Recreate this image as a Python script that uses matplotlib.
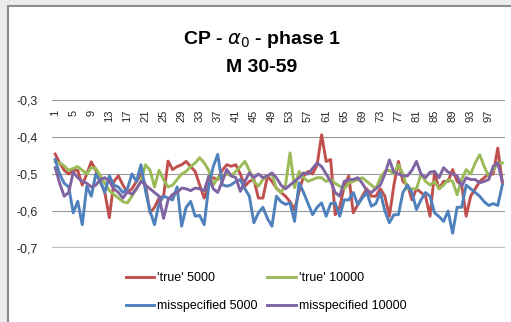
import matplotlib
matplotlib.use("Agg")
import matplotlib.pyplot as plt
from matplotlib.patches import Rectangle
import numpy as np

plt.rcParams['font.family'] = ['Liberation Sans', 'DejaVu Sans']

# data (100 replications)
true_5000 = [-0.446, -0.47, -0.49, -0.50, -0.49, -0.49, -0.53, -0.50, -0.467, -0.49,
             -0.52, -0.55, -0.618, -0.52, -0.505, -0.53, -0.55, -0.54, -0.52, -0.50,
             -0.53, -0.605, -0.59, -0.565, -0.56, -0.465, -0.488, -0.48, -0.475, -0.466,
             -0.48, -0.493, -0.53, -0.565, -0.53, -0.51, -0.515, -0.49, -0.475, -0.479,
             -0.475, -0.50, -0.533, -0.52, -0.515, -0.565, -0.565, -0.506, -0.52, -0.538,
             -0.55, -0.56, -0.575, -0.597, -0.547, -0.506, -0.493, -0.50, -0.475, -0.394,
             -0.466, -0.461, -0.61, -0.59, -0.533, -0.505, -0.605, -0.583, -0.56, -0.54,
             -0.56, -0.56, -0.54, -0.56, -0.614, -0.53, -0.466, -0.52, -0.53, -0.57,
             -0.54, -0.55, -0.56, -0.614, -0.497, -0.54, -0.52, -0.52, -0.488, -0.52,
             -0.53, -0.614, -0.56, -0.54, -0.52, -0.51, -0.50, -0.50, -0.43, -0.524]
true_10000 = [-0.466, -0.47, -0.478, -0.49, -0.485, -0.48, -0.49, -0.50, -0.483, -0.485,
              -0.505, -0.525, -0.545, -0.555, -0.565, -0.575, -0.578, -0.56, -0.54, -0.52,
              -0.475, -0.49, -0.535, -0.49, -0.515, -0.535, -0.53, -0.515, -0.50, -0.493,
              -0.48, -0.47, -0.456, -0.47, -0.49, -0.53, -0.51, -0.505, -0.50, -0.505,
              -0.493, -0.48, -0.466, -0.49, -0.52, -0.533, -0.515, -0.505, -0.50, -0.54,
              -0.55, -0.53, -0.443, -0.537, -0.493, -0.51, -0.52, -0.515, -0.51, -0.51,
              -0.52, -0.515, -0.525, -0.533, -0.54, -0.525, -0.52, -0.515, -0.51, -0.52,
              -0.53, -0.54, -0.51, -0.493, -0.49, -0.50, -0.475, -0.50, -0.54, -0.54,
              -0.54, -0.50, -0.52, -0.53, -0.52, -0.54, -0.53, -0.515, -0.52, -0.556,
              -0.515, -0.488, -0.50, -0.47, -0.448, -0.48, -0.506, -0.49, -0.47, -0.47]
miss_5000 = [-0.461, -0.50, -0.525, -0.535, -0.605, -0.574, -0.637, -0.533, -0.56, -0.50,
             -0.52, -0.55, -0.505, -0.53, -0.535, -0.55, -0.54, -0.50, -0.52, -0.475,
             -0.545, -0.60, -0.637, -0.58, -0.56, -0.565, -0.57, -0.535, -0.641, -0.59,
             -0.574, -0.614, -0.612, -0.637, -0.533, -0.48, -0.447, -0.529, -0.533, -0.529,
             -0.52, -0.515, -0.54, -0.56, -0.632, -0.605, -0.59, -0.62, -0.641, -0.56,
             -0.575, -0.582, -0.578, -0.628, -0.524, -0.55, -0.58, -0.61, -0.59, -0.578,
             -0.614, -0.58, -0.578, -0.614, -0.57, -0.57, -0.55, -0.583, -0.565, -0.55,
             -0.587, -0.58, -0.55, -0.60, -0.632, -0.61, -0.61, -0.55, -0.53, -0.55,
             -0.596, -0.57, -0.55, -0.56, -0.605, -0.615, -0.628, -0.60, -0.66, -0.59,
             -0.59, -0.53, -0.54, -0.55, -0.56, -0.575, -0.585, -0.58, -0.585, -0.53]
miss_10000 = [-0.483, -0.525, -0.56, -0.55, -0.495, -0.51, -0.52, -0.525, -0.535, -0.53,
              -0.515, -0.51, -0.52, -0.54, -0.55, -0.565, -0.548, -0.555, -0.54, -0.52,
              -0.53, -0.54, -0.55, -0.56, -0.62, -0.57, -0.555, -0.55, -0.538, -0.54,
              -0.545, -0.538, -0.54, -0.545, -0.506, -0.54, -0.55, -0.52, -0.488, -0.505,
              -0.51, -0.547, -0.52, -0.497, -0.51, -0.50, -0.51, -0.505, -0.497, -0.51,
              -0.53, -0.54, -0.53, -0.52, -0.51, -0.497, -0.50, -0.485, -0.47, -0.48,
              -0.50, -0.52, -0.55, -0.56, -0.52, -0.515, -0.515, -0.51, -0.525, -0.545,
              -0.55, -0.54, -0.53, -0.50, -0.462, -0.495, -0.50, -0.505, -0.505, -0.49,
              -0.466, -0.50, -0.51, -0.495, -0.493, -0.51, -0.483, -0.495, -0.50, -0.505,
              -0.533, -0.51, -0.515, -0.515, -0.524, -0.52, -0.515, -0.479, -0.47, -0.52]

labels = ["'true' 5000", "'true' 10000", "misspecified 5000", "misspecified 10000"]
colors = ['#C0504D', '#9BBB59', '#4F81BD', '#8064A2']
x = np.arange(1, 101)

W, H = 511, 322
fig = plt.figure(figsize=(W / 100, H / 100), dpi=100, facecolor='#ebebeb')
fig.patches.append(Rectangle((7.5 / W, -0.05), 1.1, 1 - 5.5 / H + 0.05,
                             transform=fig.transFigure, facecolor='white',
                             edgecolor='#8c8c8c', linewidth=1.5, zorder=-5))

ax = fig.add_axes([52 / W, 1 - 248 / H, 453 / W, 148 / H])
ax.set_zorder(2)
ax.set_facecolor('none')
lines = []
for s, c, lab in zip([true_5000, true_10000, miss_5000, miss_10000], colors, labels):
    ln, = ax.plot(x, s, color=c, lw=2.1, label=lab, solid_joinstyle='round')
    lines.append(ln)

ax.set_ylim(-0.7, -0.3)
ax.set_xlim(0.3, 100.6)
yt = [-0.7, -0.6, -0.5, -0.4, -0.3]
ax.set_yticks(yt)
ax.set_yticklabels([('%.1f' % v).replace('.', ',') for v in yt], fontsize=9, color='#262626')
for v in yt:
    ax.axhline(v, color='#bfbfbf' if v == -0.7 else '#9a9a9a',
               lw=1.6 if v == -0.7 else 0.8, zorder=0)

# category labels sit just under the top gridline (axis crosses at the top)
ax.set_xticks(x[::4])
ax.set_xticklabels([str(i) for i in x[::4]], rotation=90, fontsize=8, color='#262626')
ax.xaxis.tick_top()
ax.tick_params(length=0)
ax.tick_params(axis='x', pad=-7)
for t in ax.get_xticklabels():
    t.set_va('top')
ax.tick_params(axis='y', pad=10)
for sp in ax.spines.values():
    sp.set_visible(False)

fig.text(262 / W, 1 - 40 / H, r'CP - $\alpha_0$ - phase 1', ha='center', va='center',
         fontsize=14, fontweight='bold')
fig.text(262 / W, 1 - 67 / H, 'M 30-59', ha='center', va='center',
         fontsize=14, fontweight='bold')

# legend filled row by row like Excel
order = [0, 2, 1, 3]
fig.legend([lines[i] for i in order], [labels[i] for i in order],
           loc='center', bbox_to_anchor=(266 / W, 1 - 292 / H), ncol=2, frameon=False,
           fontsize=9, handlelength=2.3, handletextpad=0.2, columnspacing=0.8,
           labelspacing=1.3)

fig.savefig('out.png', dpi=100, facecolor=fig.get_facecolor())
